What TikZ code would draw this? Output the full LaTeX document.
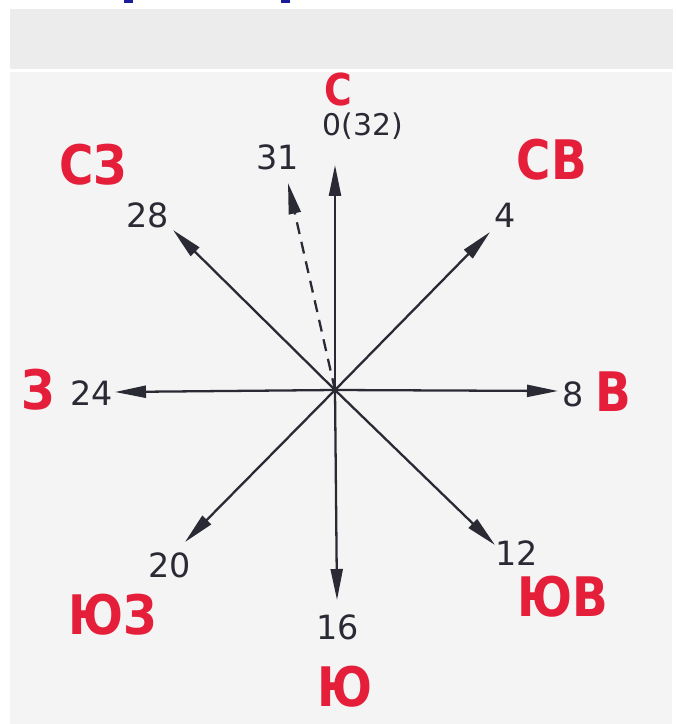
\documentclass[tikz,border=0pt]{standalone}
\usepackage{fontspec}
\setmainfont{DejaVu Sans}
\newfontfamily\polefont[FakeStretch=0.86]{DejaVu Sans}
\usepackage{xcolor}
\usetikzlibrary{positioning, arrows.meta}

\definecolor{ink}{HTML}{2A2A34}
\definecolor{marker}{HTML}{E51E3A}
\definecolor{paper}{HTML}{F4F4F4}
\definecolor{band}{HTML}{ECECEC}
\definecolor{tabblue}{HTML}{1C1C9A}

\begin{document}
\begin{tikzpicture}[
      x=0.02cm, y=-0.02cm,
      ray/.style={draw=ink, line width=1.3pt, -{Triangle[length=0.62cm, width=0.24cm]}},
      pole/.style={text=marker, font=\polefont\fontsize{31}{31}\selectfont\bfseries, inner sep=0pt},
      num/.style={text=ink, font=\fontsize{19}{19}\selectfont, inner sep=0pt}
    ]
      \useasboundingbox (0,0) rectangle (676,724);
      \fill[white] (0,0) rectangle (676,724);

      % sheet of paper
      \fill[band] (10,9) rectangle (673,69);
      \fill[paper] (10,72) rectangle (672,724);
      \fill[tabblue] (124,0) rectangle (133,3);
      \fill[tabblue] (281,0) rectangle (290,3);

      % centre and tips
      \coordinate (o) at (335,390);
      \coordinate (n) at (335,165);
      \coordinate (ne) at (490,232);
      \coordinate (e) at (558,391);
      \coordinate (se) at (495,545);
      \coordinate (s) at (337,600);
      \coordinate (sw) at (185,542);
      \coordinate (w) at (115,392);
      \coordinate (nw) at (173,230);
      \coordinate (n31) at (288,183);

      \foreach \tip in {n, ne, e, se, s, sw, w, nw}
        \draw[ray] (o) -- (\tip);
      \draw[ray, dash pattern=on 0.24cm off 0.16cm] (o) -- (n31);

      % points
      \node[num, font=\fontsize{17}{17}\selectfont] (p0) at (363,126) {0(32)};
      \node[num] (p31) at (278,157) {31};
      \node[num] (p4) at (505,215) {4};
      \node[num] (p8) at (573,394) {8};
      \node[num] (p12) at (517,553) {12};
      \node[num] (p16) at (338,627) {16};
      \node[num] (p20) at (170,565) {20};
      \node[num] (p24) at (92,393) {24};
      \node[num] (p28) at (148,215) {28};

      % directions
      \node[pole, font=\polefont\fontsize{25}{25}\selectfont\bfseries] (dn) at (338,90) {С};
      \node[pole] (dne) at (552,160) {СВ};
      \node[pole] (de) at (613,392) {В};
      \node[pole] (dse) at (563,597) {ЮВ};
      \node[pole] (ds) at (345,687) {Ю};
      \node[pole] (dsw) at (113,615) {ЮЗ};
      \node[pole] (dw) at (38,390) {З};
      \node[pole] (dnw) at (93,165) {СЗ};
    \end{tikzpicture}
\end{document}
